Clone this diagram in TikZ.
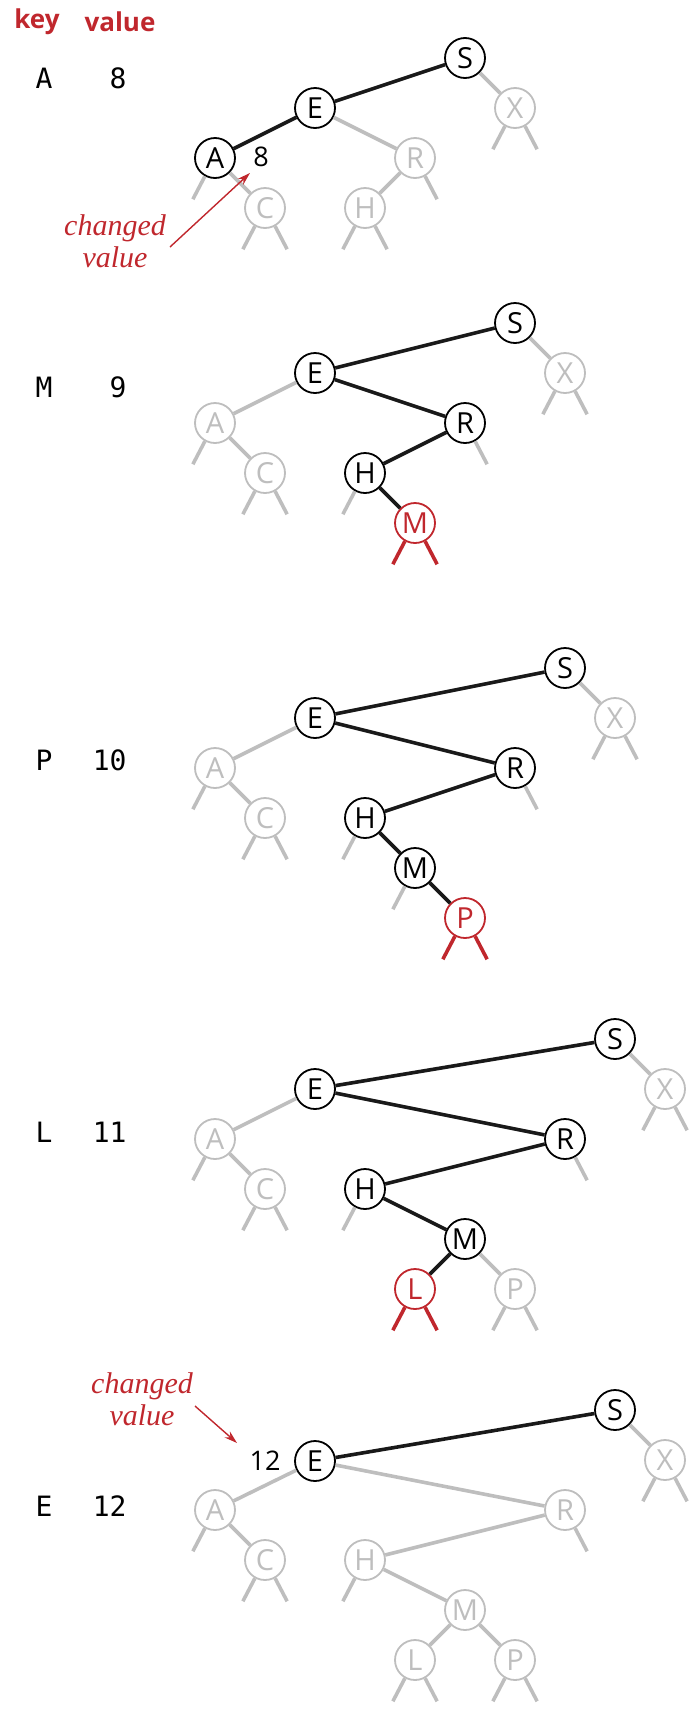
\documentclass[tikz,border=0pt]{standalone}
\usepackage{fontspec}
\usetikzlibrary{arrows.meta}
\usepackage{xcolor}
\newfontfamily\keyfont{Open Sans}
\newfontfamily\monofont{DejaVu Sans Mono}
\newfontfamily\notefont{Liberation Serif}
\definecolor{redcustom}{RGB}{192,39,45}
\definecolor{graycustom}{RGB}{190,190,190}

\begin{document}
\begin{tikzpicture}[x=1pt, y=1pt,
    bnode/.style={circle, draw=black, line width=1.8pt, fill=white, minimum size=40pt, inner sep=0pt, font=\keyfont\fontsize{29}{29}\selectfont},
    gnode/.style={bnode, draw=graycustom, text=graycustom},
    rnode/.style={bnode, draw=redcustom, text=redcustom},
    blink/.style={line width=3.6pt, black!90},
    glink/.style={line width=3.6pt, graycustom},
    rlink/.style={line width=3.6pt, redcustom},
    keylabel/.style={font=\monofont\fontsize{28}{28}\selectfont},
    vallabel/.style={font=\keyfont\fontsize{27}{27}\selectfont},
    header/.style={text=redcustom, font=\keyfont\bfseries\fontsize{26}{26}\selectfont},
    note/.style={text=redcustom, font=\notefont\itshape\fontsize{30}{32}\selectfont, align=center},
    notearrow/.style={redcustom, line width=1.4pt, -{Stealth[length=13pt, width=8pt]}}]
    \useasboundingbox (0,0) rectangle (697,-1711);

    % header
    \node[header] (hkey) at (37,-22) {key};
    \node[header] (hval) at (120,-22) {value};

    % put A 8
    \node[keylabel] (k1) at (44,-78) {A};
    \node[keylabel, anchor=east] (v1) at (130,-78) {8};
    \node[bnode] (S1) at (465,-58) {S};
    \node[bnode] (E1) at (315,-108) {E};
    \node[gnode] (X1) at (515,-108) {X};
    \node[bnode] (A1) at (215,-158) {A};
    \node[gnode] (R1) at (415,-158) {R};
    \node[gnode] (C1) at (265,-208) {C};
    \node[gnode] (H1) at (365,-208) {H};
    \draw[glink] (S1) -- (X1) (E1) -- (R1) (A1) -- (C1) (R1) -- (H1);
    \draw[blink] (S1) -- (E1) -- (A1);
    \foreach \n in {X1,C1,H1} \draw[glink] (\n.-119) -- +(-12,-23) (\n.-61) -- +(12,-23);
    \draw[glink] (A1.-119) -- +(-12,-23) (R1.-61) -- +(12,-23);
    \node[vallabel] (val1) at (261,-157) {8};
    \node[note] (note1) at (115,-241) {changed\\value};
    \coordinate (n1a) at (170,-247);
    \coordinate (n1b) at (250,-173);
    \draw[notearrow] (n1a) -- (n1b);

    % put M 9
    \node[keylabel] (k2) at (44,-387) {M};
    \node[keylabel, anchor=east] (v2) at (130,-387) {9};
    \node[bnode] (S2) at (515,-323) {S};
    \node[bnode] (E2) at (315,-373) {E};
    \node[gnode] (X2) at (565,-373) {X};
    \node[gnode] (A2) at (215,-423) {A};
    \node[bnode] (R2) at (465,-423) {R};
    \node[gnode] (C2) at (265,-473) {C};
    \node[bnode] (H2) at (365,-473) {H};
    \node[rnode] (M2) at (415,-523) {M};
    \draw[glink] (S2) -- (X2) (E2) -- (A2) (A2) -- (C2);
    \draw[blink] (S2) -- (E2) -- (R2) -- (H2) -- (M2);
    \foreach \n in {X2,C2} \draw[glink] (\n.-119) -- +(-12,-23) (\n.-61) -- +(12,-23);
    \draw[glink] (A2.-119) -- +(-12,-23) (R2.-61) -- +(12,-23) (H2.-119) -- +(-12,-23);
    \draw[rlink] (M2.-119) -- +(-12,-23) (M2.-61) -- +(12,-23);

    % put P 10
    \node[keylabel] (k3) at (44,-760) {P};
    \node[keylabel, anchor=east] (v3) at (130,-760) {10};
    \node[bnode] (S3) at (565,-668) {S};
    \node[bnode] (E3) at (315,-718) {E};
    \node[gnode] (X3) at (615,-718) {X};
    \node[gnode] (A3) at (215,-768) {A};
    \node[bnode] (R3) at (515,-768) {R};
    \node[gnode] (C3) at (265,-818) {C};
    \node[bnode] (H3) at (365,-818) {H};
    \node[bnode] (M3) at (415,-868) {M};
    \node[rnode] (P3) at (465,-918) {P};
    \draw[glink] (S3) -- (X3) (E3) -- (A3) (A3) -- (C3);
    \draw[blink] (S3) -- (E3) -- (R3) -- (H3) -- (M3) -- (P3);
    \foreach \n in {X3,C3} \draw[glink] (\n.-119) -- +(-12,-23) (\n.-61) -- +(12,-23);
    \foreach \n in {A3,H3,M3} \draw[glink] (\n.-119) -- +(-12,-23);
    \draw[glink] (R3.-61) -- +(12,-23);
    \draw[rlink] (P3.-119) -- +(-12,-23) (P3.-61) -- +(12,-23);

    % put L 11
    \node[keylabel] (k4) at (44,-1132) {L};
    \node[keylabel, anchor=east] (v4) at (130,-1132) {11};
    \node[bnode] (S4) at (615,-1039) {S};
    \node[bnode] (E4) at (315,-1089) {E};
    \node[gnode] (X4) at (665,-1089) {X};
    \node[gnode] (A4) at (215,-1139) {A};
    \node[bnode] (R4) at (565,-1139) {R};
    \node[gnode] (C4) at (265,-1189) {C};
    \node[bnode] (H4) at (365,-1189) {H};
    \node[bnode] (M4) at (465,-1239) {M};
    \node[rnode] (L4) at (415,-1289) {L};
    \node[gnode] (P4) at (515,-1289) {P};
    \draw[glink] (S4) -- (X4) (E4) -- (A4) (A4) -- (C4) (M4) -- (P4);
    \draw[blink] (S4) -- (E4) -- (R4) -- (H4) -- (M4) -- (L4);
    \foreach \n in {X4,C4,P4} \draw[glink] (\n.-119) -- +(-12,-23) (\n.-61) -- +(12,-23);
    \foreach \n in {A4,H4} \draw[glink] (\n.-119) -- +(-12,-23);
    \draw[glink] (R4.-61) -- +(12,-23);
    \draw[rlink] (L4.-119) -- +(-12,-23) (L4.-61) -- +(12,-23);

    % put E 12
    \node[keylabel] (k5) at (44,-1506) {E};
    \node[keylabel, anchor=east] (v5) at (130,-1506) {12};
    \node[bnode] (S5) at (615,-1410) {S};
    \node[bnode] (E5) at (315,-1461) {E};
    \node[gnode] (X5) at (665,-1460) {X};
    \node[gnode] (A5) at (215,-1510) {A};
    \node[gnode] (R5) at (565,-1510) {R};
    \node[gnode] (C5) at (265,-1560) {C};
    \node[gnode] (H5) at (365,-1560) {H};
    \node[gnode] (M5) at (465,-1610) {M};
    \node[gnode] (L5) at (415,-1660) {L};
    \node[gnode] (P5) at (515,-1660) {P};
    \draw[glink] (S5) -- (X5) (E5) -- (A5) (A5) -- (C5) (E5) -- (R5) -- (H5) -- (M5) -- (L5) (M5) -- (P5);
    \draw[blink] (S5) -- (E5);
    \foreach \n in {X5,C5,L5,P5} \draw[glink] (\n.-119) -- +(-12,-23) (\n.-61) -- +(12,-23);
    \foreach \n in {A5,H5} \draw[glink] (\n.-119) -- +(-12,-23);
    \draw[glink] (R5.-61) -- +(12,-23);
    \node[vallabel] (val5) at (265,-1461) {12};
    \node[note] (note5) at (142,-1399) {changed\\value};
    \coordinate (n5a) at (195,-1406);
    \coordinate (n5b) at (237,-1443);
    \draw[notearrow] (n5a) -- (n5b);
\end{tikzpicture}
\end{document}
